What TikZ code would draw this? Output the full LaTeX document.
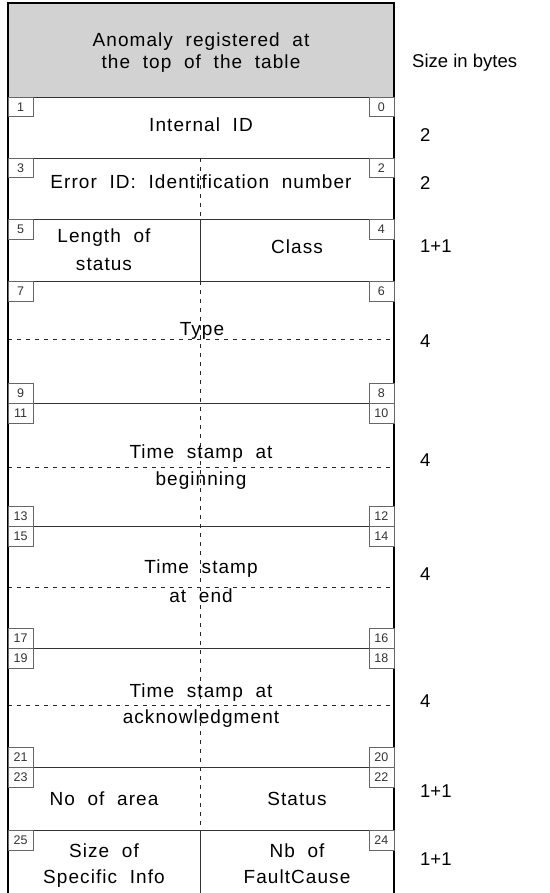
\documentclass[tikz,border=0pt]{standalone}
\usepackage{fontspec}
\setmainfont{Liberation Sans}
\newfontfamily\cellfont[LetterSpace=5.6,WordSpace=2]{Liberation Sans}
\usetikzlibrary{positioning}

\begin{document}
\begin{tikzpicture}[
    x=1pt, y=-1pt,
    cell/.style={
        anchor=base,
        inner sep=0pt,
        font=\cellfont\fontsize{19}{20}\selectfont
    },
    bytes/.style={
        anchor=base west,
        inner sep=0pt,
        font=\fontsize{18.5}{20}\selectfont
    },
    numbox/.style={
        draw=black!60,
        fill=white,
        minimum width=25pt,
        minimum height=19.5pt,
        inner sep=0pt,
        font=\fontsize{12.5}{13}\selectfont,
        text=black!80
    },
    rowline/.style={draw=black!80, line width=0.9pt},
    halfline/.style={draw=black!85, line width=0.6pt, dash pattern=on 4pt off 5pt}
]
\useasboundingbox (0,0) rectangle (549,893);

% header
\fill[gray!35] (8,3) rectangle (394,97);
\node[cell] (hdrA) at (201,47) {Anomaly registered at};
\node[cell] (hdrB) at (201,69) {the top of the table};
\node[bytes] (sizehdr) at (412,68) {Size in bytes};

% row separators
\foreach \y in {97,158,219,281,403,526,648,767,830}
    \draw[rowline] (8,\y) -- (394,\y);

% middle of the 4-byte rows
\foreach \y in {339,467,587,705}
    \draw[halfline] (8,\y) -- (394,\y);

% column split
\draw[halfline] (200,158) -- (200,219);
\draw[rowline] (200,219) -- (200,281);
\draw[halfline] (200,281) -- (200,830);
\draw[rowline] (200,830) -- (200,893);

% outer frame
\draw[line width=1.2pt] (8,893) -- (8,3) -- (394,3) -- (394,893);

% byte offsets
\foreach \top/\lt/\rt in {97/1/0, 158/3/2, 219/5/4, 281/7/6, 403/11/10,
                          526/15/14, 648/19/18, 767/23/22, 830/25/24} {
    \node[numbox, anchor=north west] (off\lt) at (8,\top) {\lt};
    \node[numbox, anchor=north east] (off\rt) at (394,\top) {\rt};
}
\foreach \bot/\lb/\rb in {403/9/8, 526/13/12, 648/17/16, 767/21/20} {
    \node[numbox, anchor=south west] (off\lb) at (8,\bot) {\lb};
    \node[numbox, anchor=south east] (off\rb) at (394,\bot) {\rb};
}

% fields
\node[cell] (intid) at (201,132) {Internal ID};
\node[cell] (errid) at (201,189) {Error ID: Identification number};
\node[cell] (lenA) at (104,243) {Length of};
\node[cell] (lenB) at (104,270) {status};
\node[cell] (class) at (297,253) {Class};
\node[cell] (type) at (202,335) {Type};
\node[cell] (tsbA) at (201,458) {Time stamp at};
\node[cell] (tsbB) at (201,485) {beginning};
\node[cell] (tseA) at (201,573) {Time stamp};
\node[cell] (tseB) at (201,602) {at end};
\node[cell] (tsaA) at (201,697) {Time stamp at};
\node[cell] (tsaB) at (201,723) {acknowledgment};
\node[cell] (area) at (104,805) {No of area};
\node[cell] (status) at (297,805) {Status};
\node[cell] (sizeA) at (104,857) {Size of};
\node[cell] (sizeB) at (104,883) {Specific Info};
\node[cell] (nbA) at (297,857) {Nb of};
\node[cell] (nbB) at (297,883) {FaultCause};

% sizes in bytes
\node[bytes] (sz1) at (420,142) {2};
\node[bytes] (sz2) at (420,190) {2};
\node[bytes] (sz3) at (420,252) {1+1};
\node[bytes] (sz4) at (420,347) {4};
\node[bytes] (sz5) at (420,466) {4};
\node[bytes] (sz6) at (420,580) {4};
\node[bytes] (sz7) at (420,707) {4};
\node[bytes] (sz8) at (420,797) {1+1};
\node[bytes] (sz9) at (420,865) {1+1};
\end{tikzpicture}
\end{document}
